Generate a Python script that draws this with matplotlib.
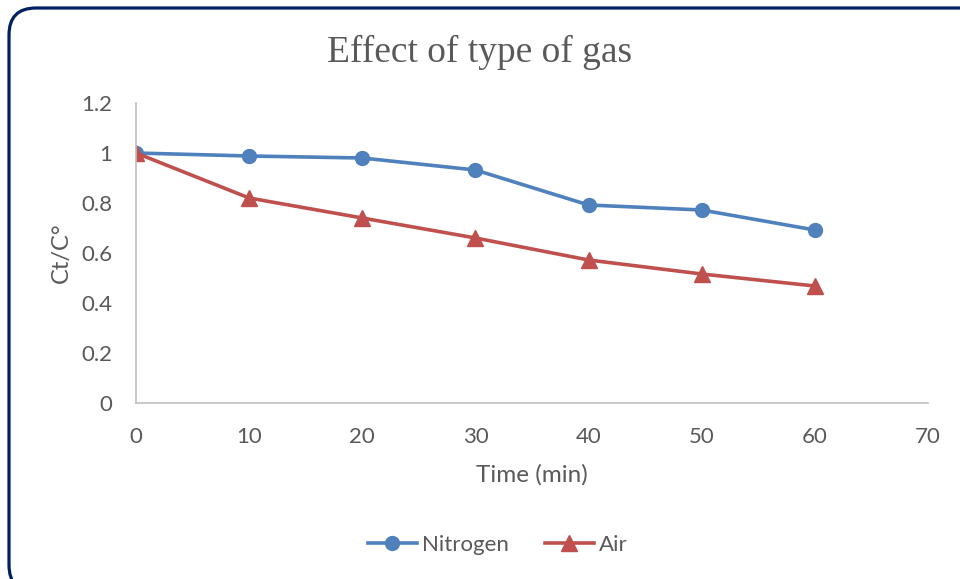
import matplotlib.pyplot as plt
from matplotlib.patches import FancyBboxPatch

# data
time_min = [0, 10, 20, 30, 40, 50, 60]
nitrogen = [1.0, 0.988, 0.98, 0.932, 0.792, 0.772, 0.692]
air = [1.0, 0.82, 0.74, 0.66, 0.572, 0.516, 0.468]
x_ticks = [0, 10, 20, 30, 40, 50, 60, 70]
y_ticks = [0, 0.2, 0.4, 0.6, 0.8, 1, 1.2]
y_tick_labels = ['0', '0.2', '0.4', '0.6', '0.8', '1', '1.2']

plt.rcParams['font.family'] = ['Lato', 'DejaVu Sans']
grey = '#595959'

fig = plt.figure(figsize=(9.6, 5.79), dpi=100)
ax = fig.add_axes([136/960, 1 - 403/579, 792/960, 300/579])

ax.plot(time_min, nitrogen, color='#4F81BD', lw=2.6, marker='o', ms=10, label='Nitrogen')
ax.plot(time_min, air, color='#C0504D', lw=2.6, marker='^', ms=11, label='Air')

ax.set_xlim(0, 70)
ax.set_ylim(0, 1.2)
ax.set_xticks(x_ticks)
ax.set_yticks(y_ticks)
ax.set_yticklabels(y_tick_labels)
ax.tick_params(length=0, labelsize=16, colors=grey)
ax.tick_params(axis='y', pad=17)
ax.tick_params(axis='x', pad=17.5)
for s in ['top', 'right']:
    ax.spines[s].set_visible(False)
for s in ['left', 'bottom']:
    ax.spines[s].set_color('#BFBFBF')
    ax.spines[s].set_linewidth(1.2)

ax.set_xlabel('Time (min)', fontsize=17.5, color=grey, labelpad=12)
ax.set_ylabel('Ct/C°', fontsize=17, color=grey, labelpad=7)

fig.text(0.5, 1 - 52/579, 'Effect of type of gas', ha='center', va='center',
         fontsize=27, color=grey, family='Liberation Serif')

fig.legend(loc='center', bbox_to_anchor=(498/960, 1 - 545/579), ncol=2, frameon=False,
           fontsize=16, labelcolor=grey, handlelength=2.2, columnspacing=1.6,
           handletextpad=0.25)

# rounded border round the chart, partly cut by the right and bottom edges
border = FancyBboxPatch((9, -13), 985, 584, boxstyle='round,pad=0,rounding_size=27',
                        transform=None, fill=False, ec='#002060', lw=2.3, clip_on=False)
fig.patches.append(border)

fig.savefig('out.png', dpi=100)
